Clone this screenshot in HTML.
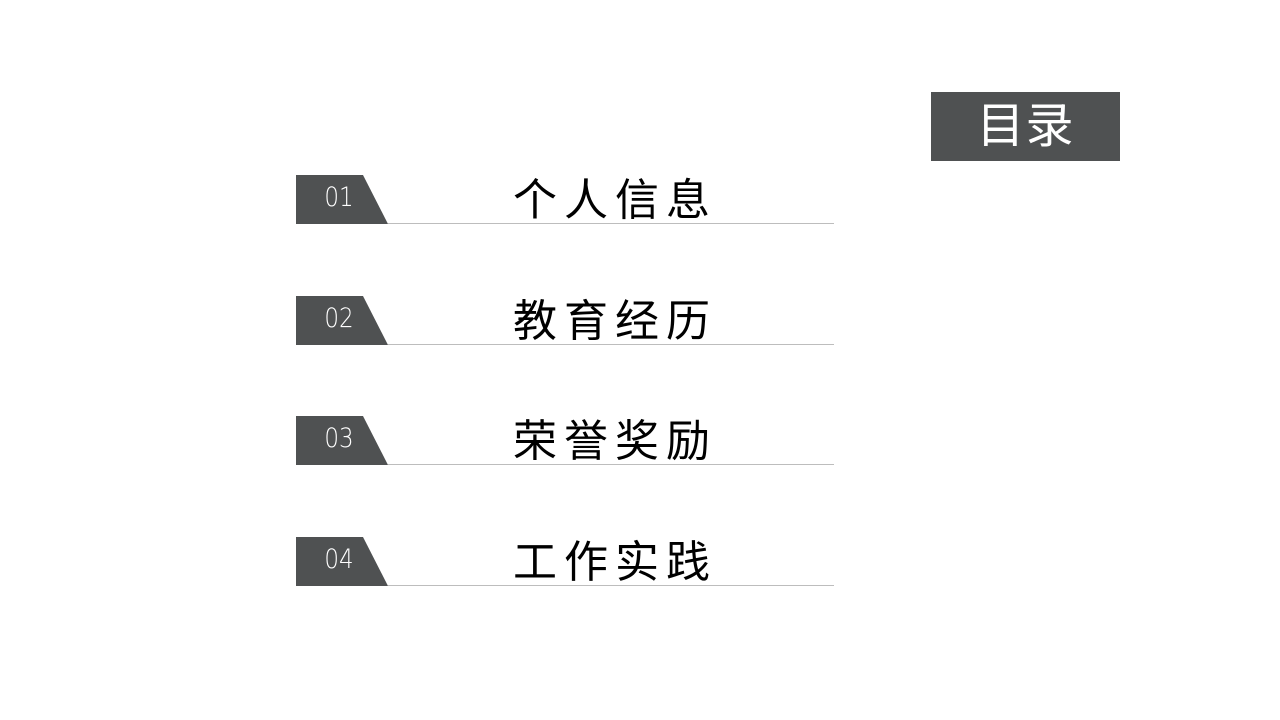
<!DOCTYPE html>
<html><head><meta charset="utf-8"><style>
body{margin:0;width:1280px;height:720px;background:#fff;position:relative;overflow:hidden;font-family:"Liberation Sans","Noto Sans CJK SC",sans-serif}
.hd{position:absolute;left:931px;top:92px;width:189px;height:69px;background:#4f5152;color:#fff;font-size:48px;line-height:69px;text-align:center;letter-spacing:1px}
.row{position:absolute;left:296px;width:538px;height:49px}
.row svg{position:absolute;left:0;top:0}
.num{position:absolute;left:0;width:86px;top:0;height:48px;line-height:46px;text-align:center;color:#fff;font-size:27px;font-weight:300;font-family:"DejaVu Sans","Liberation Sans",sans-serif;transform:scaleX(0.85)}
.line{position:absolute;left:92px;right:0;top:48px;height:1px;background:#bdbdbd}
.t{position:absolute;left:217px;top:-6px;font-size:44px;letter-spacing:7px;color:#000;line-height:54px;font-family:"Noto Sans CJK SC",sans-serif}
</style></head><body>
<div class="hd">目录</div>
<div class="row" style="top:175px"><svg width="100" height="49"><polygon points="0,0 67,0 92,49 0,49" fill="#4f5152"/></svg><div class="num">01</div><div class="line"></div><div class="t">个人信息</div></div>
<div class="row" style="top:296px"><svg width="100" height="49"><polygon points="0,0 67,0 92,49 0,49" fill="#4f5152"/></svg><div class="num">02</div><div class="line"></div><div class="t">教育经历</div></div>
<div class="row" style="top:416px"><svg width="100" height="49"><polygon points="0,0 67,0 92,49 0,49" fill="#4f5152"/></svg><div class="num">03</div><div class="line"></div><div class="t">荣誉奖励</div></div>
<div class="row" style="top:537px"><svg width="100" height="49"><polygon points="0,0 67,0 92,49 0,49" fill="#4f5152"/></svg><div class="num">04</div><div class="line"></div><div class="t">工作实践</div></div>
</body></html>
